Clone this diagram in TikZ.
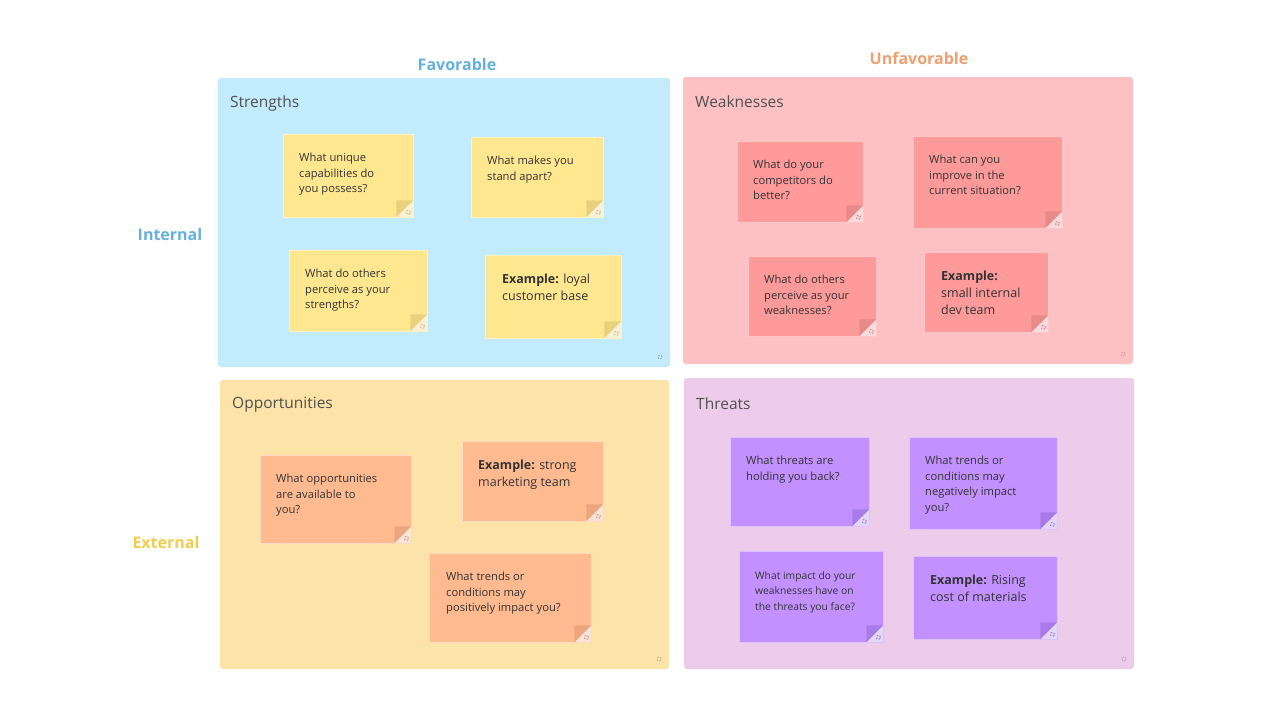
\documentclass[tikz,border=0pt]{standalone}
\usepackage{fontspec}
\setmainfont{Open Sans}
\usepackage{tikz}

\definecolor{bgstrength}{HTML}{C2EBFD}
\definecolor{bgweak}{HTML}{FDC1C4}
\definecolor{bgopport}{HTML}{FCE3A7}
\definecolor{bgthreat}{HTML}{EDCBEA}
\definecolor{noteyellow}{HTML}{FFE790}
\definecolor{notered}{HTML}{FF9A9A}
\definecolor{noteorange}{HTML}{FFBA90}
\definecolor{notepurple}{HTML}{C390FF}
\definecolor{foldyellow}{HTML}{E9D07C}
\definecolor{foldred}{HTML}{E88A8A}
\definecolor{foldorange}{HTML}{EBA57F}
\definecolor{foldpurple}{HTML}{A97BE8}
\definecolor{favblue}{HTML}{64B0E0}
\definecolor{unfavorange}{HTML}{F0A06E}
\definecolor{extyellow}{HTML}{F0CD50}
\definecolor{titlegrey}{HTML}{505050}
\definecolor{notetextcol}{HTML}{333333}

\tikzset{
	quadrant/.style={rounded corners=3pt},
	quadtitle/.style={anchor=west, inner sep=0pt, text=titlegrey, font=\fontsize{15.5}{18}\selectfont},
	axislabel/.style={font=\bfseries\fontsize{16}{19}\selectfont},
	note/.style 2 args={anchor=north west, inner sep=0pt, fill=#1, draw=#1!55!white, line width=0.8pt,
		path picture={
			\fill[#2] ([xshift=-17pt]path picture bounding box.south east) -- ++(0pt,17pt) -- ++(17pt,0pt) -- cycle;
			\fill[#2!30!white] ([xshift=-17pt]path picture bounding box.south east) -- (path picture bounding box.south east) -- ++(0pt,17pt) -- cycle;
			\draw[#2!85!black, line width=0.9pt, dash pattern=on 1.6pt off 1.6pt] ([shift={(-5pt,5pt)}]path picture bounding box.south east) circle (2pt);
		}},
	yellownote/.style={note={noteyellow}{foldyellow}},
	rednote/.style={note={notered}{foldred}},
	orangenote/.style={note={noteorange}{foldorange}},
	purplenote/.style={note={notepurple}{foldpurple}},
	notetext/.style={anchor=north west, inner sep=0pt, align=left, text=notetextcol, font=\fontsize{11.2}{15.5}\selectfont},
	exampletext/.style={notetext, font=\fontsize{12.5}{17}\selectfont},
	grip/.style={line width=0.9pt, dash pattern=on 1.6pt off 1.6pt}
}

\begin{document}
\begin{tikzpicture}[x=1pt, y=-1pt]
	\useasboundingbox[fill=white] (0,0) rectangle (1280,720);

	% quadrants
	\fill[quadrant, bgstrength] (218,78) rectangle (670,367);
	\fill[quadrant, bgweak] (683,77) rectangle (1133,364);
	\fill[quadrant, bgopport] (220,380) rectangle (669,669);
	\fill[quadrant, bgthreat] (684,378) rectangle (1134,669);
	\draw[grip, bgstrength!75!black] (660,357) circle (2pt);
	\draw[grip, bgweak!80!black] (1123,354) circle (2pt);
	\draw[grip, bgopport!80!black] (659,659) circle (2pt);
	\draw[grip, bgthreat!80!black] (1124,659) circle (2pt);

	\node[quadtitle] (strengths) at (230,103) {Strengths};
	\node[quadtitle] (weaknesses) at (695,102) {Weaknesses};
	\node[quadtitle] (opportunities) at (232,405) {Opportunities};
	\node[quadtitle] (threats) at (696,404) {Threats};

	% axis labels
	\node[axislabel, text=favblue] (favorable) at (457,64) {Favorable};
	\node[axislabel, text=unfavorange] (unfavorable) at (919,58) {Unfavorable};
	\node[axislabel, text=favblue] (internal) at (170,234) {Internal};
	\node[axislabel, text=extyellow] (external) at (166,542) {External};

	% strengths
	\node[yellownote, minimum width=130pt, minimum height=83pt] (s1) at (283,134) {};
	\node[notetext] (s1t) at ([shift={(16pt,-19pt)}]s1.north west) {What unique\\capabilities do\\you possess?};
	\node[yellownote, minimum width=132pt, minimum height=80pt] (s2) at (471,137) {};
	\node[notetext] (s2t) at ([shift={(16pt,-19pt)}]s2.north west) {What makes you\\stand apart?};
	\node[yellownote, minimum width=138pt, minimum height=81pt] (s3) at (289,250) {};
	\node[notetext] (s3t) at ([shift={(16pt,-19pt)}]s3.north west) {What do others\\perceive as your\\strengths?};
	\node[yellownote, minimum width=136pt, minimum height=83pt] (s4) at (485,255) {};
	\node[exampletext] (s4t) at ([shift={(17pt,-19pt)}]s4.north west) {\textbf{Example:} loyal\\customer base};

	% weaknesses
	\node[rednote, minimum width=126pt, minimum height=81pt] (w1) at (737,141) {};
	\node[notetext] (w1t) at ([shift={(16pt,-19pt)}]w1.north west) {What do your\\competitors do\\better?};
	\node[rednote, minimum width=149pt, minimum height=92pt] (w2) at (913,136) {};
	\node[notetext] (w2t) at ([shift={(16pt,-19pt)}]w2.north west) {What can you\\improve in the\\current situation?};
	\node[rednote, minimum width=128pt, minimum height=80pt] (w3) at (748,256) {};
	\node[notetext] (w3t) at ([shift={(16pt,-19pt)}]w3.north west) {What do others\\perceive as your\\weaknesses?};
	\node[rednote, minimum width=124pt, minimum height=80pt] (w4) at (924,252) {};
	\node[exampletext] (w4t) at ([shift={(17pt,-19pt)}]w4.north west) {\textbf{Example:}\\small internal\\dev team};

	% opportunities
	\node[orangenote, minimum width=151pt, minimum height=88pt] (o1) at (260,455) {};
	\node[notetext] (o1t) at ([shift={(16pt,-19pt)}]o1.north west) {What opportunities\\are available to\\you?};
	\node[orangenote, minimum width=141pt, minimum height=80pt] (o2) at (462,441) {};
	\node[exampletext] (o2t) at ([shift={(16pt,-19pt)}]o2.north west) {\textbf{Example:} strong\\marketing team};
	\node[orangenote, minimum width=162pt, minimum height=89pt] (o3) at (429,553) {};
	\node[notetext] (o3t) at ([shift={(17pt,-19pt)}]o3.north west) {What trends or\\conditions may\\positively impact you?};

	% threats
	\node[purplenote, minimum width=139pt, minimum height=89pt] (t1) at (730,437) {};
	\node[notetext] (t1t) at ([shift={(16pt,-19pt)}]t1.north west) {What threats are\\holding you back?};
	\node[purplenote, minimum width=148pt, minimum height=92pt] (t2) at (909,437) {};
	\node[notetext] (t2t) at ([shift={(16pt,-19pt)}]t2.north west) {What trends or\\conditions may\\negatively impact\\you?};
	\node[purplenote, minimum width=144pt, minimum height=91pt] (t3) at (739,551) {};
	\node[notetext, font=\fontsize{10.3}{15.5}\selectfont] (t3t) at ([shift={(16pt,-20pt)}]t3.north west) {What impact do your\\weaknesses have on\\the threats you face?};
	\node[purplenote, minimum width=144pt, minimum height=83pt] (t4) at (913,556) {};
	\node[exampletext] (t4t) at ([shift={(17pt,-19pt)}]t4.north west) {\textbf{Example:} Rising\\cost of materials};
\end{tikzpicture}
\end{document}
